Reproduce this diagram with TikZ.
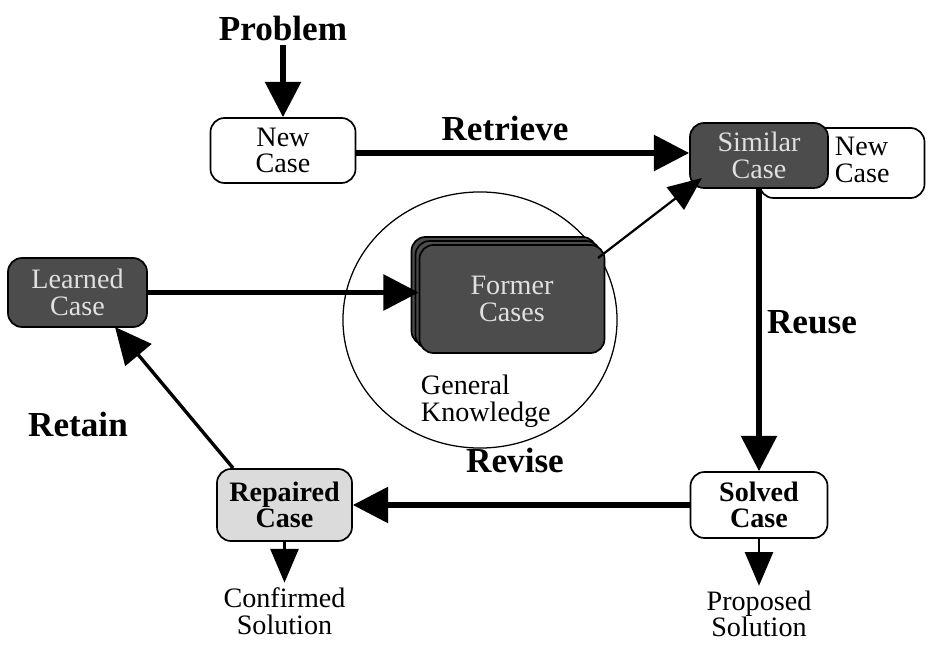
\documentclass[tikz,border=0pt]{standalone}
\usepackage{fontspec}
\setmainfont{Liberation Serif}
\usetikzlibrary{arrows.meta,positioning,shapes.geometric}
\tikzset{
  casebox/.style={draw, rounded corners=10pt, line width=1.2pt, align=center, inner sep=0pt, font=\fontsize{20}{19}\selectfont},
  darkbox/.style={casebox, fill=black!70, text=black!12},
  boldbox/.style={casebox, font=\bfseries\fontsize{20}{19}\selectfont},
  steplabel/.style={font=\bfseries\fontsize{25}{26}\selectfont},
  plain/.style={align=center, font=\fontsize{20}{19}\selectfont},
  bigarrow/.style={line width=3.6pt, -{Triangle[width=25pt,length=25pt]}},
  midarrow/.style={line width=2.4pt, -{Triangle[width=24pt,length=26pt]}},
  thinarrow/.style={line width=1.6pt, -{Triangle[width=20pt,length=24pt]}}
}
\begin{document}
\begin{tikzpicture}[x=0.025cm, y=-0.025cm]
\useasboundingbox (0,0) rectangle (928,649);
\node[steplabel] (PB) at (283,28) {Problem};
\node[casebox, minimum width=3.625cm, minimum height=1.625cm] (NC) at (283,150.5) {New\\Case};
\node[casebox, minimum width=4.125cm, minimum height=1.75cm] (BC) at (842,163) {};
\node[plain, anchor=west, align=left] (BT) at (830,160) {New\\Case};
\node[darkbox, minimum width=3.45cm, minimum height=1.625cm] (SC) at (759,155.5) {Similar\\Case};
\node[darkbox, minimum width=3.475cm, minimum height=1.725cm] (LC) at (77.5,292.5) {Learned\\Case};
\node[ellipse, draw, line width=0.9pt, minimum width=6.85cm, minimum height=6.4cm] (GK) at (480,320) {};
\node[darkbox, minimum width=4.625cm, minimum height=2.7cm] (F2) at (504,291) {};
\node[darkbox, minimum width=4.625cm, minimum height=2.7cm] (F1) at (508,295) {};
\node[darkbox, minimum width=4.625cm, minimum height=2.7cm] (FC) at (512,299) {Former\\Cases};
\node[plain, anchor=north west, align=left] (GT) at (416,370) {General\\Knowledge};
\node[boldbox, minimum width=3.425cm, minimum height=1.65cm] (SV) at (759,505) {Solved\\Case};
\node[boldbox, fill=black!14, minimum width=3.375cm, minimum height=1.8cm] (RC) at (284.5,505) {Repaired\\Case};
\node[plain] (PS) at (759,614) {Proposed\\Solution};
\node[plain] (CS) at (284.5,611) {Confirmed\\Solution};
\node[steplabel] (RT) at (505,128) {Retrieve};
\node[steplabel] (RU) at (812,322) {Reuse};
\node[steplabel] (RV) at (515,460) {Revise};
\node[steplabel] (RN) at (78,424) {Retain};
\coordinate (R0) at (233,468);
\coordinate (R1) at (115,327);
\coordinate (F0) at (598,258);
\coordinate (S0) at (702,178);
\draw[bigarrow] (PB) -- (NC);
\draw[bigarrow] (NC.east |- 0,153) -- (SC.west |- 0,153);
\draw[bigarrow] (SC.south) -- (SV.north);
\draw[bigarrow] (SV.west) -- (RC.east);
\draw[bigarrow] (LC.east) -- (FC.west |- LC.east);
\draw[midarrow] (R0) -- (R1);
\draw[thinarrow] (F0) -- (S0);
\draw[thinarrow] (SV.south) -- (PS.north);
\draw[thinarrow] (RC.south) -- (CS.north);
\end{tikzpicture}
\end{document}
